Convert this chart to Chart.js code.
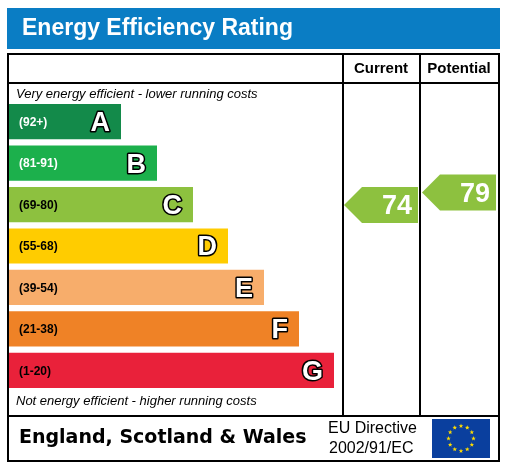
<!DOCTYPE html><html><head><meta charset="utf-8">
<script src="https://cdn.jsdelivr.net/npm/chart.js@4"></script>
<style>html,body{margin:0;padding:0;background:#fff}</style></head><body>
<canvas id="c" width="509" height="467"></canvas>
<script>
const bandLetters=['A','B','C','D','E','F','G'];
const bandRanges=['(92+)','(81-91)','(69-80)','(55-68)','(39-54)','(21-38)','(1-20)'];
const bandLengths=[112,148,184,219,255,290,325];
const bandColors=['#138a4a','#1cb04c','#8dc13f','#ffcc00','#f7ad6b','#ef8226','#e9213a'];
const currentRating=74, potentialRating=79;
const arrowColor='#8dc13f';

const F='"Liberation Sans", Arial, sans-serif';
const deco={id:'deco',
beforeDraw(ch){const c=ch.ctx;c.save();
 c.fillStyle='#fff';c.fillRect(0,0,509,467);
 c.fillStyle='#0a7dc4';c.fillRect(7,8,493,41);
 c.fillStyle='#fff';c.font='bold 23px '+F;c.textBaseline='middle';c.fillText('Energy Efficiency Rating',22,29);
 c.strokeStyle='#000';c.lineWidth=2;
 c.strokeRect(8,54,491,407);
 c.beginPath();c.moveTo(8,83);c.lineTo(499,83);c.moveTo(8,416);c.lineTo(499,416);
 c.moveTo(343,54);c.lineTo(343,416);c.moveTo(420,54);c.lineTo(420,416);c.stroke();
 c.fillStyle='#000';c.font='bold 15px '+F;c.textAlign='center';
 c.fillText('Current',381,69);c.fillText('Potential',459,69);
 c.textAlign='left';c.font='italic 13px '+F;
 c.fillText('Very energy efficient - lower running costs',16,94);
 c.fillText('Not energy efficient - higher running costs',16,401);
 c.font='bold 19px "DejaVu Sans", sans-serif';c.fillText('England, Scotland & Wales',19,438);
 c.font='16px '+F;c.fillText('EU Directive',328,429);c.fillText('2002/91/EC',329,449);
 c.fillStyle='#0a3f9e';c.fillRect(432,419,58,39);
 c.fillStyle='#ffdd00';
 for(let i=0;i<12;i++){const a=i*Math.PI/6;const x=461+12.5*Math.sin(a),y=438.5-12.5*Math.cos(a);
  c.beginPath();for(let k=0;k<10;k++){const r=k%2?1:2.4,b=k*Math.PI/5;c.lineTo(x+r*Math.sin(b),y-r*Math.cos(b));}c.fill();}
 c.restore();},
afterDatasetsDraw(ch){const c=ch.ctx;c.save();const m=ch.getDatasetMeta(0);
 m.data.forEach((bar,i)=>{
  c.fillStyle=i==3?'#000':'#000';c.font='bold 12px '+F;c.textBaseline='middle';c.textAlign='left';
  c.fillStyle=(i<3)?'#fff':'#000';if(i==2)c.fillStyle='#000';if(i==6)c.fillStyle='#000';
  c.fillText(bandRanges[i],19,bar.y+1);
  c.font='bold 27px '+F;c.textAlign='right';c.lineWidth=3;c.strokeStyle='#000';c.lineJoin='round';
  c.strokeText(bandLetters[i],bar.x-11,bar.y+2);c.fillStyle='#fff';c.fillText(bandLetters[i],bar.x-11,bar.y+2);
 });
 const ys=ch.scales.y;
 function yFor(v){const lo=[92,81,69,55,39,21,1],hi=[100,91,80,68,54,38,20];
  for(let i=0;i<7;i++)if(v>=lo[i]){const t=(hi[i]-v)/(hi[i]-lo[i]+1);return ys.getPixelForValue(i)-17+34*t+ (i==0?0:0);}return ys.getPixelForValue(6);}
 function arrow(x0,x1,yc,v){c.fillStyle=arrowColor;c.beginPath();c.moveTo(x0,yc);c.lineTo(x0+18,yc-18);c.lineTo(x1,yc-18);c.lineTo(x1,yc+18);c.lineTo(x0+18,yc+18);c.closePath();c.fill();
  c.fillStyle='#fff';c.font='bold 27px '+F;c.textAlign='right';c.textBaseline='middle';c.fillText(String(v),x1-6,yc+2);}
 arrow(344,418,205,currentRating);arrow(422,496,yFor(potentialRating)+2,potentialRating);
 c.restore();}};
new Chart(document.getElementById('c'),{type:'bar',
 data:{labels:bandLetters,datasets:[{data:bandLengths,backgroundColor:bandColors,barPercentage:0.85,categoryPercentage:1}]},
 options:{indexAxis:'y',responsive:false,animation:false,events:[],
  layout:{padding:{left:9,right:0,top:101,bottom:76}},
  plugins:{legend:{display:false},tooltip:{enabled:false}},
  scales:{x:{display:false,min:0,max:500},y:{display:false}}},
 plugins:[deco]});
</script></body></html>
